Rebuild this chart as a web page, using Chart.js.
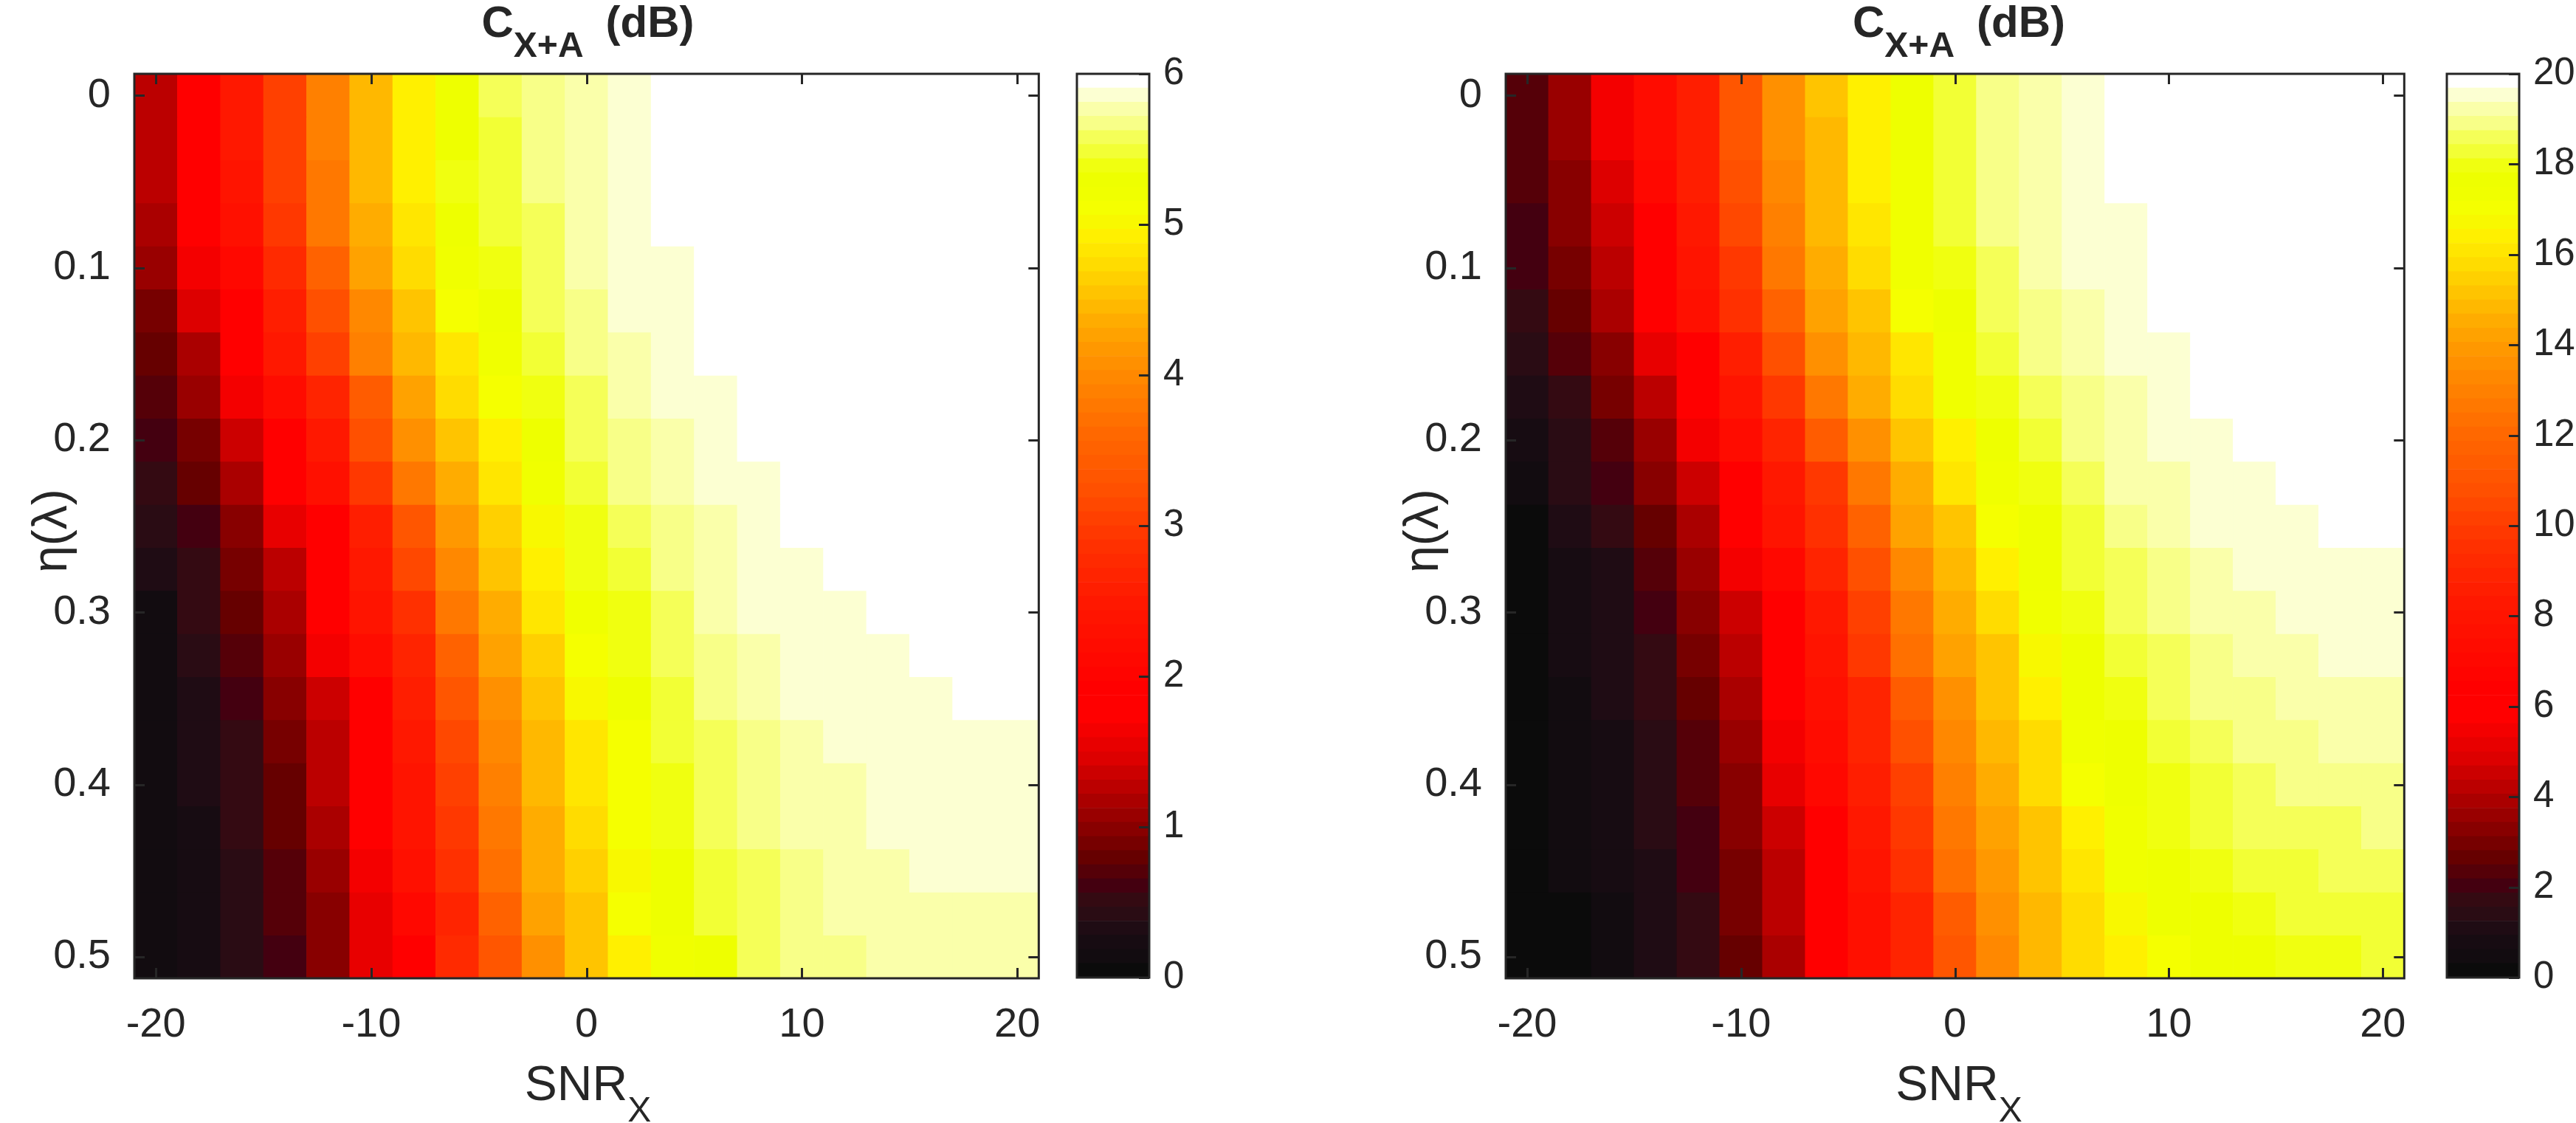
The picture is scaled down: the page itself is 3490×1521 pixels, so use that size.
<!DOCTYPE html>
<html>
<head>
<meta charset="utf-8">
<script src="https://cdn.jsdelivr.net/npm/chart.js@4.4.0/dist/chart.umd.min.js"></script>
<style>
  html, body { margin: 0; padding: 0; background: #fff; }
  body { width: 3490px; height: 1521px; position: relative; overflow: hidden;
         font-family: "Liberation Sans", Arial, Helvetica, sans-serif; color: #262626; }
  canvas { position: absolute; top: 0; }
  .lbl { position: absolute; white-space: nowrap; text-align: center; line-height: 1; }
  .title { font-weight: bold; font-size: 60px; top: 0; }
  .title .sub { font-size: 48px; position: relative; top: 27px; }
  .title .db { margin-left: 30px; }
  .xlab { font-size: 66px; top: 1434px; }
  .xlab .sub { font-size: 48px; position: relative; top: 29px; }
  .ylab { font-size: 66px; width: 400px; height: 70px; line-height: 70px; transform: rotate(-90deg); }
</style>
</head>
<body>
<canvas id="mapL" width="1440" height="1521" style="left:0"></canvas>
<canvas id="barL" width="300" height="1521" style="left:1440px"></canvas>
<canvas id="mapR" width="1550" height="1521" style="left:1740px"></canvas>
<canvas id="barR" width="200" height="1521" style="left:3290px"></canvas>

<div class="lbl title" style="left:182px;width:1229px">C<span class="sub">X+A</span><span class="db">(dB)</span></div>
<div class="lbl title" style="left:2040px;width:1228px">C<span class="sub">X+A</span><span class="db">(dB)</span></div>
<div class="lbl xlab" style="left:182px;width:1229px">SNR<span class="sub">X</span></div>
<div class="lbl xlab" style="left:2040px;width:1228px">SNR<span class="sub">X</span></div>
<div class="lbl ylab" style="left:-133px;top:684px">η(λ)</div>
<div class="lbl ylab" style="left:1725px;top:684px">η(λ)</div>

<script>
// SNR_X columns (dB) and eta rows
const snrX = [-20, -18, -16, -14, -12, -10, -8, -6, -4, -2, 0, 2, 4, 6, 8, 10, 12, 14, 16, 18, 20];
const eta = [0, 0.025, 0.05, 0.075, 0.1, 0.125, 0.15, 0.175, 0.2, 0.225, 0.25,
             0.275, 0.3, 0.325, 0.35, 0.375, 0.4, 0.425, 0.45, 0.475, 0.5];

const xTicks = [-20, -10, 0, 10, 20];
const yTicks = [0, 0.1, 0.2, 0.3, 0.4, 0.5];
const cbarTicksL = [0, 1, 2, 3, 4, 5, 6];
const cbarTicksR = [0, 2, 4, 6, 8, 10, 12, 14, 16, 18, 20];
const cmaxL = 6;
const cmaxR = 20;

// C_X+A (dB), left panel, one row per eta (values above 6 are clipped to white)
const capL = [
  [1.27,1.83,2.48,3.05,3.89,4.45,4.92,5.30,5.58,5.67,5.77,5.86,6,6,6,6,6,6,6,6,6],
  [1.27,1.83,2.48,3.05,3.89,4.45,4.92,5.30,5.48,5.67,5.77,5.86,6,6,6,6,6,6,6,6,6],
  [1.27,1.83,2.39,3.05,3.80,4.45,4.92,5.39,5.48,5.67,5.77,5.86,6,6,6,6,6,6,6,6,6],
  [1.17,1.83,2.30,2.95,3.80,4.36,4.83,5.30,5.48,5.58,5.77,5.86,6,6,6,6,6,6,6,6,6],
  [1.08,1.64,2.11,2.77,3.52,4.27,4.73,5.20,5.39,5.58,5.77,5.86,5.86,6,6,6,6,6,6,6,6],
  [0.89,1.45,1.83,2.58,3.23,3.98,4.55,5.11,5.30,5.58,5.67,5.86,5.86,6,6,6,6,6,6,6,6],
  [0.80,1.17,1.83,2.48,3.05,3.89,4.45,4.83,5.20,5.48,5.67,5.77,5.86,6,6,6,6,6,6,6,6],
  [0.70,1.08,1.64,2.20,2.67,3.42,4.27,4.73,5.11,5.39,5.58,5.77,5.86,5.86,6,6,6,6,6,6,6],
  [0.61,0.89,1.36,1.83,2.48,3.23,4.08,4.55,4.92,5.30,5.58,5.67,5.77,5.86,6,6,6,6,6,6,6],
  [0.52,0.80,1.17,1.83,2.30,2.95,3.80,4.36,4.83,5.20,5.48,5.67,5.77,5.86,5.86,6,6,6,6,6,6],
  [0.42,0.61,0.98,1.55,1.92,2.58,3.33,4.17,4.64,5.02,5.39,5.58,5.67,5.77,5.86,6,6,6,6,6,6],
  [0.33,0.52,0.89,1.27,1.83,2.48,3.14,3.98,4.55,4.92,5.39,5.48,5.67,5.77,5.86,5.86,6,6,6,6,6],
  [0.14,0.52,0.80,1.17,1.83,2.39,2.86,3.80,4.36,4.83,5.20,5.39,5.58,5.77,5.86,5.86,5.86,6,6,6,6],
  [0.14,0.42,0.70,1.08,1.64,2.20,2.67,3.52,4.27,4.64,5.11,5.39,5.58,5.67,5.77,5.86,5.86,5.86,6,6,6],
  [0.14,0.33,0.61,0.98,1.36,1.83,2.58,3.33,4.08,4.55,5.02,5.30,5.48,5.67,5.77,5.86,5.86,5.86,5.86,6,6],
  [0.14,0.33,0.52,0.89,1.27,1.83,2.48,3.14,3.98,4.45,4.83,5.11,5.48,5.58,5.67,5.77,5.86,5.86,5.86,5.86,5.86],
  [0.14,0.33,0.52,0.80,1.27,1.83,2.39,3.05,3.89,4.45,4.83,5.11,5.39,5.58,5.67,5.77,5.77,5.86,5.86,5.86,5.86],
  [0.14,0.23,0.52,0.80,1.17,1.83,2.39,2.95,3.80,4.36,4.73,5.11,5.39,5.58,5.67,5.77,5.77,5.86,5.86,5.86,5.86],
  [0.14,0.23,0.42,0.70,1.08,1.64,2.30,2.86,3.70,4.36,4.64,5.02,5.30,5.48,5.58,5.67,5.77,5.77,5.86,5.86,5.86],
  [0.14,0.23,0.42,0.70,0.98,1.55,2.11,2.67,3.52,4.27,4.55,5.11,5.30,5.48,5.58,5.67,5.77,5.77,5.77,5.77,5.77],
  [0.14,0.23,0.42,0.61,0.98,1.55,1.83,2.77,3.33,4.08,4.55,4.92,5.20,5.30,5.58,5.67,5.67,5.77,5.77,5.77,5.77]
];

// C_X+A (dB), right panel (values above 20 are clipped to white)
const capR = [
  [2.3,3.6,5.5,7.3,8.6,11.1,13.6,15.2,16.4,17.7,18.3,18.9,19.2,19.5,20,20,20,20,20,20,20],
  [2.3,3.6,5.5,7.3,8.6,11.1,13.6,14.8,16.4,17.7,18.3,18.9,19.2,19.5,20,20,20,20,20,20,20],
  [2.3,3.3,4.8,7.0,8.6,10.8,13.3,14.8,16.4,17.3,18.3,18.9,19.2,19.5,20,20,20,20,20,20,20],
  [2.0,3.3,4.5,6.4,8.3,10.5,13.0,14.8,16.1,17.3,18.3,18.9,19.2,19.5,19.5,20,20,20,20,20,20],
  [2.0,3.0,4.2,6.1,8.0,9.8,12.7,14.5,15.8,17.3,18.0,18.6,19.2,19.5,19.5,20,20,20,20,20,20],
  [1.7,2.7,3.9,6.1,7.7,9.5,11.7,14.2,15.2,17.0,17.7,18.6,18.9,19.2,19.5,20,20,20,20,20,20],
  [1.4,2.3,3.3,5.2,6.4,8.6,10.8,13.6,14.8,16.1,17.3,18.3,18.9,19.2,19.5,19.5,20,20,20,20,20],
  [1.1,1.7,3.0,4.2,6.1,8.0,9.8,12.7,14.5,15.8,17.3,18.0,18.6,18.9,19.2,19.5,20,20,20,20,20],
  [0.8,1.4,2.3,3.6,5.5,7.3,8.9,11.4,13.6,15.2,16.4,17.7,18.3,18.9,19.2,19.5,19.5,20,20,20,20],
  [0.5,1.4,2.0,3.3,4.5,6.4,8.3,9.8,12.7,14.5,16.1,17.3,18.0,18.6,19.2,19.2,19.5,19.5,20,20,20],
  [0.2,1.1,1.7,2.7,3.9,6.1,8.0,9.5,11.7,14.2,15.2,17.0,17.7,18.3,18.9,19.2,19.5,19.5,19.5,20,20],
  [0.2,0.8,1.1,2.3,3.6,5.5,7.0,8.9,10.8,13.3,14.8,16.4,17.7,18.3,18.6,18.9,19.2,19.5,19.5,19.5,19.5],
  [0.2,0.8,1.1,2.0,3.3,4.5,6.4,8.3,10.2,12.7,14.5,15.8,17.3,18.0,18.6,18.9,19.2,19.2,19.5,19.5,19.5],
  [0.2,0.8,1.1,1.7,3.0,4.2,6.1,8.0,9.8,12.3,14.2,15.2,16.7,17.7,18.3,18.6,18.9,19.2,19.2,19.5,19.5],
  [0.2,0.5,1.1,1.7,2.7,3.9,6.1,7.7,8.9,11.4,13.6,15.2,16.4,17.7,18.0,18.6,18.9,18.9,19.2,19.2,19.2],
  [0.2,0.5,0.8,1.4,2.3,3.6,5.5,7.3,8.9,10.8,13.3,14.8,15.8,17.3,17.7,18.3,18.6,18.9,18.9,19.2,19.2],
  [0.2,0.5,0.8,1.4,2.3,3.3,5.2,7.0,8.6,10.2,13.0,14.5,15.8,17.0,17.7,18.0,18.3,18.6,18.9,18.9,18.9],
  [0.2,0.5,0.8,1.4,2.0,3.3,4.5,6.4,8.3,9.8,12.7,14.2,15.2,16.4,17.3,18.0,18.3,18.6,18.6,18.6,18.9],
  [0.2,0.5,0.8,1.1,2.0,3.0,4.2,6.1,8.0,9.5,12.3,13.9,15.2,16.1,17.3,17.7,18.0,18.3,18.3,18.6,18.6],
  [0.2,0.2,0.5,1.1,1.7,3.0,4.2,6.1,7.7,8.9,11.4,13.6,14.8,15.8,16.7,17.7,17.7,18.0,18.3,18.3,18.3],
  [0.2,0.2,0.5,1.1,1.7,2.7,3.9,6.1,7.7,8.9,11.1,13.3,14.8,15.8,16.4,17.0,17.7,17.7,18.0,18.0,18.3]
];

// 64-step "hot" colormap as it appears in the figure
const hotMap = [
  '#0b0b0b','#120c10','#170c12','#1f0c14','#2a0c14','#340a12','#440010','#550008',
  '#660000','#770000','#880000','#990000','#aa0000','#bb0000','#cc0000','#dd0000',
  '#e80000','#f40000','#ff0000','#ff0000','#ff0000','#ff0400','#ff0800','#ff0c00',
  '#ff1000','#ff1400','#ff1800','#ff1e00','#ff2400','#ff2a00','#ff3000','#ff3800',
  '#ff4000','#ff4800','#ff5000','#ff5600','#ff5c00','#ff6200','#ff6800','#ff7000',
  '#ff7800','#ff8000','#ff8800','#ff9000','#ff9800','#ffa200','#ffac00','#ffb800',
  '#ffc400','#ffd000','#ffdc00','#ffe600','#fff000','#f8f800','#f5ff00','#f0ff00',
  '#eeff00','#f0ff10','#f2ff35','#f5ff58','#f8ff88','#faffaa','#fcffd2','#ffffff'
];

const INK = '#262626';
const TICK_FONT = { family: '"Liberation Sans", Arial, sans-serif', size: 56 };
const CBAR_FONT = { family: '"Liberation Sans", Arial, sans-serif', size: 51 };

function colorOf(v, vmax) {
  const k = Math.min(hotMap.length - 1, Math.max(0, Math.floor(v / vmax * hotMap.length)));
  return hotMap[k];
}

// box + inward ticks, MATLAB style
const frame = {
  id: 'frame',
  afterDraw(chart, args, opts) {
    const { ctx, chartArea: a, scales } = chart;
    const tl = 14;
    ctx.save();
    ctx.strokeStyle = INK;
    ctx.lineWidth = 3;
    ctx.beginPath();
    if (opts.xTicks) {
      scales.x.ticks.forEach(t => {
        const p = Math.round(scales.x.getPixelForValue(t.value)) + 0.5;
        ctx.moveTo(p, a.bottom); ctx.lineTo(p, a.bottom - tl);
        ctx.moveTo(p, a.top); ctx.lineTo(p, a.top + tl);
      });
    }
    scales.y.ticks.forEach(t => {
      const p = Math.round(scales.y.getPixelForValue(t.value)) + 0.5;
      if (opts.leftTicks) { ctx.moveTo(a.left, p); ctx.lineTo(a.left + tl, p); }
      ctx.moveTo(a.right, p); ctx.lineTo(a.right - tl, p);
    });
    ctx.stroke();
    ctx.strokeRect(a.left, a.top, a.right - a.left, a.bottom - a.top);
    ctx.restore();
  }
};

function makeMap(id, values, vmax, yWidth, padRight) {
  const half = (eta[1] - eta[0]) / 2;
  const datasets = eta.map((e, i) => ({
    data: snrX.map((x, j) => ({ x: x, y: [e - half, e + half], v: values[i][j] })),
    backgroundColor: c => colorOf(c.raw.v, vmax),
    borderWidth: 0,
    barPercentage: 1,
    categoryPercentage: 1,
    grouped: false
  }));
  return new Chart(document.getElementById(id), {
    type: 'bar',
    data: { datasets },
    options: {
      responsive: false, animation: false, devicePixelRatio: 1, events: [],
      layout: { padding: { top: 100, right: padRight, bottom: 0, left: 0 } },
      plugins: { legend: { display: false }, tooltip: { enabled: false },
                 frame: { xTicks: true, leftTicks: true } },
      scales: {
        x: {
          type: 'linear', min: -21, max: 21, offset: false,
          afterBuildTicks: s => { s.ticks = xTicks.map(v => ({ value: v })); },
          afterFit: s => { s.height = 196; },
          grid: { display: false, drawTicks: false }, border: { display: false },
          ticks: { font: TICK_FONT, color: INK, padding: 30, maxRotation: 0, autoSkip: false }
        },
        y: {
          type: 'linear', reverse: true, min: -0.0125, max: 0.5125,
          afterBuildTicks: s => { s.ticks = yTicks.map(v => ({ value: v })); },
          afterFit: s => { s.width = yWidth; },
          grid: { display: false, drawTicks: false }, border: { display: false },
          ticks: { font: TICK_FONT, color: INK, padding: 32, callback: v => String(v) }
        }
      }
    },
    plugins: [frame]
  });
}

function makeBar(id, vmax, ticks, padLeft, yWidth) {
  const step = vmax / hotMap.length;
  const datasets = hotMap.map((c, i) => ({
    data: [[i * step, (i + 1) * step]],
    backgroundColor: c,
    borderWidth: 0,
    barPercentage: 1,
    categoryPercentage: 1,
    grouped: false
  }));
  return new Chart(document.getElementById(id), {
    type: 'bar',
    data: { labels: [''], datasets },
    options: {
      responsive: false, animation: false, devicePixelRatio: 1, events: [],
      layout: { padding: { top: 100, right: 0, bottom: 197, left: padLeft } },
      plugins: { legend: { display: false }, tooltip: { enabled: false },
                 frame: { xTicks: false, leftTicks: false } },
      scales: {
        x: { display: false },
        y: {
          position: 'right', min: 0, max: vmax,
          afterBuildTicks: s => { s.ticks = ticks.map(v => ({ value: v })); },
          afterFit: s => { s.width = yWidth; },
          grid: { display: false, drawTicks: false }, border: { display: false },
          ticks: { font: CBAR_FONT, color: INK, padding: 19 }
        }
      }
    },
    plugins: [frame]
  });
}

makeMap('mapL', capL, cmaxL, 182, 29);
makeBar('barL', cmaxL, cbarTicksL, 19, 183);
makeMap('mapR', capR, cmaxR, 300, 22);
makeBar('barR', cmaxR, cbarTicksR, 25, 77);
</script>
</body>
</html>
